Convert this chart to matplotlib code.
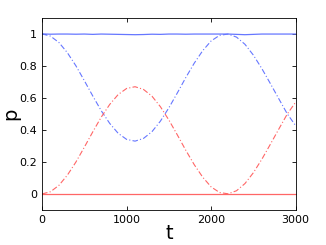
import matplotlib
matplotlib.use('Agg')
import matplotlib.pyplot as plt

# Data
t = [0, 100, 200, 300, 400, 500, 600, 700, 800, 900, 1000, 1100, 1200, 1300, 1400,
     1500, 1600, 1700, 1800, 1900, 2000, 2100, 2200, 2300, 2400, 2500, 2600, 2700,
     2800, 2900, 3000]
red_dash = [0.0, 0.014, 0.054, 0.118, 0.199, 0.292, 0.388, 0.480, 0.559, 0.621, 0.659,
            0.670, 0.653, 0.611, 0.545, 0.462, 0.369, 0.273, 0.183, 0.105, 0.044, 0.009,
            0.001, 0.020, 0.065, 0.133, 0.217, 0.310, 0.405, 0.499, 0.574]
blue_dash = [1.0, 0.986, 0.946, 0.882, 0.801, 0.708, 0.612, 0.520, 0.441, 0.379, 0.341,
             0.330, 0.347, 0.389, 0.455, 0.538, 0.631, 0.727, 0.817, 0.895, 0.956, 0.991,
             0.999, 0.980, 0.935, 0.867, 0.783, 0.690, 0.595, 0.501, 0.426]
blue_solid = [1.0, 0.998, 0.999, 0.999, 0.998, 0.999, 0.997, 0.999, 0.998, 0.997, 0.996,
              0.995, 0.996, 0.998, 0.997, 0.999, 0.999, 0.998, 0.999, 0.999, 0.999, 0.999,
              0.999, 0.997, 0.995, 0.997, 0.999, 0.999, 0.999, 0.999, 0.999]
red_solid = [0.0] * len(t)

fig = plt.figure(figsize=(3.26, 2.45), dpi=100)
ax = fig.add_axes([0.129, 0.143, 0.778, 0.784])

ax.plot(t, blue_solid, color='#6677ff', lw=0.9)
ax.plot(t, red_solid, color='#ff6666', lw=0.9)
ax.plot(t, blue_dash, color='#6677ff', lw=0.8, dashes=(5, 2, 1, 2))
ax.plot(t, red_dash, color='#ff6666', lw=0.8, dashes=(5, 2, 1, 2))

ax.set_xlim(0, 3000)
ax.set_ylim(-0.1, 1.1)
ax.set_xticks([0, 1000, 2000, 3000])
ax.set_yticks([0, 0.2, 0.4, 0.6, 0.8, 1])
ax.set_yticklabels(['0', '0.2', '0.4', '0.6', '0.8', '1'])
ax.tick_params(direction='in', top=True, right=True, labelsize=8, length=3, width=0.6)
for s in ax.spines.values():
    s.set_linewidth(0.6)
ax.set_xlabel('t', fontsize=14)
ax.xaxis.set_label_coords(0.5, -0.075)
ax.set_ylabel('p', fontsize=14)
ax.yaxis.set_label_coords(-0.085, 0.5)

fig.savefig('out.png', dpi=100)
